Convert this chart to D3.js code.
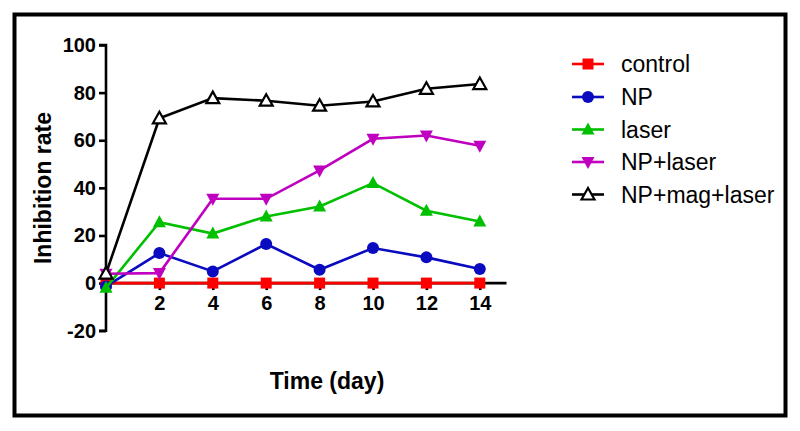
<!DOCTYPE html>
<html>
<head>
<meta charset="utf-8">
<script src="https://cdn.jsdelivr.net/npm/d3@7"></script>
<style>
  html, body { margin: 0; padding: 0; background: #fff; }
  svg { display: block; }
  text { font-family: "Liberation Sans", Arial, sans-serif; }
</style>
</head>
<body>
<svg id="chart" width="800" height="431"></svg>
<script>
const days = [0, 2, 4, 6, 8, 10, 12, 14];
const xTicks = [2, 4, 6, 8, 10, 12, 14];
const yTicks = [-20, 0, 20, 40, 60, 80, 100];
const seriesNames = ["control", "NP", "laser", "NP+laser", "NP+mag+laser"];
const control = [0, 0, 0, 0, 0, 0, 0, 0];
const np = [-1.4, 12.6, 4.9, 16.4, 5.6, 14.7, 10.8, 5.9];
const laser = [-2, 25.6, 20.8, 28, 32.2, 42, 30.4, 25.9];
const npLaser = [3.9, 4.2, 35.4, 35.4, 47.3, 60.6, 62, 57.7];
const npMagLaser = [4, 69.2, 77.7, 76.6, 74.5, 76.3, 81.6, 83.6];
const seriesColors = ["#ff0000", "#0a0ac0", "#00c000", "#c000c0", "#000000"];
const seriesSymbols = ["square", "circle", "triUp", "triDown", "triOpen"];

const seriesValues = [control, np, laser, npLaser, npMagLaser];
const svg = d3.select("#chart");

// frame
svg.append("rect").attr("x", 14.5).attr("y", 14.5).attr("width", 771).attr("height", 401)
  .attr("fill", "none").attr("stroke", "#000").attr("stroke-width", 4);

const x = d3.scaleLinear().domain([0, 15]).range([106, 506.5]);
const y = d3.scaleLinear().domain([-20, 100]).range([330.7, 45]);

// y axis
const yAxis = svg.append("g").attr("transform", `translate(${x(0)},0)`)
  .call(d3.axisLeft(y).tickValues(yTicks).tickSize(7).tickPadding(3).tickFormat(d => String(d)));
yAxis.select(".domain").attr("d", `M-7,${y(100)}H0V${y(-20)}H-7`);
// x axis at y=0
const xAxis = svg.append("g").attr("transform", `translate(0,${y(0)})`)
  .call(d3.axisBottom(x).tickValues(xTicks).tickSize(7).tickPadding(6).tickFormat(d => String(d)));
xAxis.select(".domain").attr("d", `M${x(0)},0H${x(15)}`);

[yAxis, xAxis].forEach(g => {
  g.selectAll(".domain, .tick line").attr("stroke", "#000").attr("stroke-width", 2.6);
  g.selectAll(".tick text").attr("font-size", 20).attr("font-weight", "bold")
    .attr("fill", "#000").attr("font-family", '"Liberation Sans", Arial, sans-serif');
});

// axis titles
svg.append("text").attr("transform", `translate(51,188) rotate(-90)`)
  .attr("text-anchor", "middle").attr("font-size", 23).attr("font-weight", "bold")
  .text("Inhibition rate");
svg.append("text").attr("x", 327).attr("y", 389)
  .attr("text-anchor", "middle").attr("font-size", 23).attr("font-weight", "bold")
  .text("Time (day)");

function drawSymbol(g, type, color, cx, cy) {
  if (type === "square") {
    g.append("rect").attr("x", cx - 5.5).attr("y", cy - 5.5).attr("width", 11).attr("height", 11).attr("fill", color);
  } else if (type === "circle") {
    g.append("circle").attr("cx", cx).attr("cy", cy).attr("r", 6).attr("fill", color);
  } else if (type === "triUp") {
    g.append("path").attr("d", `M${cx},${cy - 7}L${cx + 6.5},${cy + 5}L${cx - 6.5},${cy + 5}Z`).attr("fill", color);
  } else if (type === "triDown") {
    g.append("path").attr("d", `M${cx},${cy + 7}L${cx + 6.5},${cy - 5}L${cx - 6.5},${cy - 5}Z`).attr("fill", color);
  } else if (type === "triOpen") {
    g.append("path").attr("d", `M${cx},${cy - 6.5}L${cx + 6.5},${cy + 5}L${cx - 6.5},${cy + 5}Z`)
      .attr("fill", "#fff").attr("stroke", color).attr("stroke-width", 2.2).attr("stroke-linejoin", "miter");
  }
}

const line = d3.line().x(d => x(d[0])).y(d => y(d[1]));
seriesValues.forEach((vals, i) => {
  const pts = days.map((d, j) => [d, vals[j]]);
  const g = svg.append("g");
  g.append("path").attr("d", line(pts)).attr("fill", "none")
    .attr("stroke", seriesColors[i]).attr("stroke-width", 2.6);
  pts.forEach(p => drawSymbol(g, seriesSymbols[i], seriesColors[i], x(p[0]), y(p[1])));
});

// legend
const legendY = [64, 97, 129.5, 162, 194.5];
seriesNames.forEach((name, i) => {
  const g = svg.append("g");
  const ly = legendY[i];
  g.append("line").attr("x1", 572).attr("x2", 604).attr("y1", ly).attr("y2", ly)
    .attr("stroke", seriesColors[i]).attr("stroke-width", 2.6);
  drawSymbol(g, seriesSymbols[i], seriesColors[i], 588, ly);
  g.append("text").attr("x", 621).attr("y", ly + 8).attr("font-size", 23).attr("fill", "#000").text(name);
});
</script>
</body>
</html>
